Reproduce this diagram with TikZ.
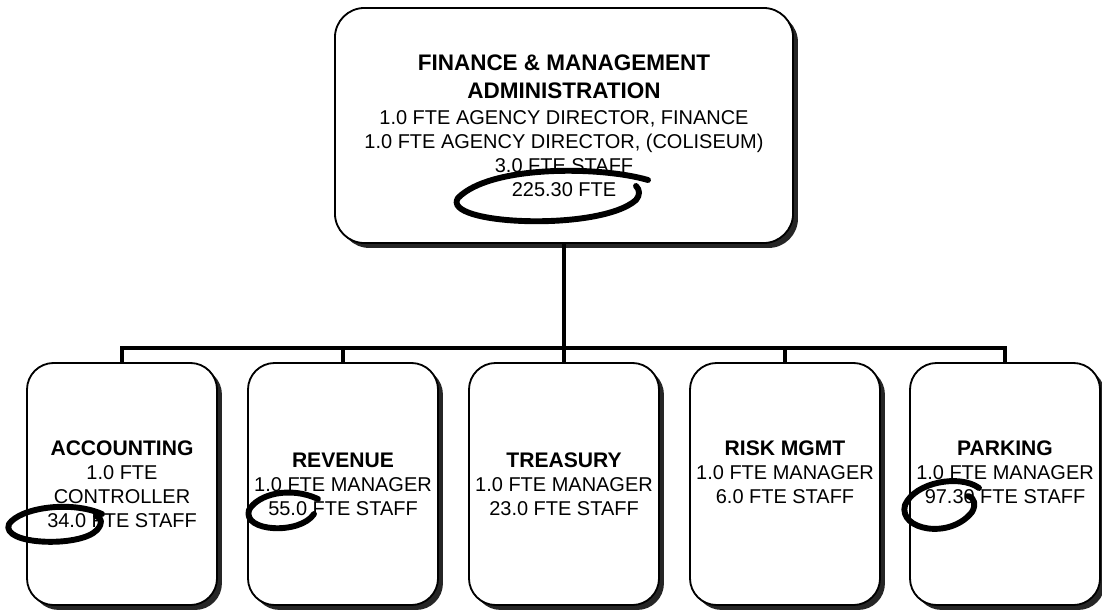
\documentclass[tikz,border=0pt]{standalone}
\usepackage{fontspec}
\setmainfont{Liberation Sans}
\usetikzlibrary{shadows}

\newcommand{\unithead}[1]{{\fontsize{15}{17.1}\selectfont\bfseries #1}}
\newcommand{\agencyhead}[1]{{\fontsize{16}{17.1}\selectfont\bfseries #1}}

\begin{document}
\begin{tikzpicture}[x=0.025cm,y=-0.025cm,
    unitbox/.style={draw=black,line width=1.3pt,fill=white,rounded corners=19pt,
      minimum width=4.75cm,minimum height=6.05cm,align=center,inner sep=1pt,
      font=\fontsize{14.2}{17.1}\selectfont,
      drop shadow={shadow xshift=3.5pt,shadow yshift=-3.5pt,fill=black!85,opacity=1}},
    agencybox/.style={unitbox,minimum width=11.45cm,minimum height=5.875cm,rounded corners=21pt},
    link/.style={line width=2.2pt},
    inkloop/.style={line width=4.2pt,line cap=round,line join=round}]
  \useasboundingbox (0,0) rectangle (1102,610);
  \fill[white] (0,0) rectangle (1102,610);

  % agency
  \node[agencybox] (fma) at (564,125.5) {\agencyhead{FINANCE \& MANAGEMENT}\\[3pt]
    \agencyhead{ADMINISTRATION}\\[1pt]
    1.0 FTE AGENCY DIRECTOR, FINANCE\\
    1.0 FTE AGENCY DIRECTOR, (COLISEUM)\\
    3.0 FTE STAFF\\
    225.30 FTE};

  % divisions
  \node[unitbox] (acc) at (122,484) {\unithead{ACCOUNTING}\\1.0 FTE\\CONTROLLER\\34.0 FTE STAFF};
  \node[unitbox] (rev) at (343,484) {\unithead{REVENUE}\\1.0 FTE MANAGER\\55.0 FTE STAFF};
  \node[unitbox] (trs) at (564,484) {\unithead{TREASURY}\\1.0 FTE MANAGER\\23.0 FTE STAFF};
  \node[unitbox] (risk) at (785,484) {\unithead{RISK MGMT}\\1.0 FTE MANAGER\\6.0 FTE STAFF\\\mbox{}};
  \node[unitbox] (park) at (1005,484) {\unithead{PARKING}\\1.0 FTE MANAGER\\97.30 FTE STAFF\\\mbox{}};

  % reporting lines
  \coordinate (bus) at (0,348);
  \draw[link] (fma.south) -- (fma.south |- bus);
  \draw[link] (acc.north) -- (acc.north |- bus) -- (park.north |- bus) -- (park.north);
  \foreach \u in {rev,trs,risk}
    \draw[link] (\u.north) -- (\u.north |- bus);

  % pen marks round the totals
  \draw[inkloop] (648,180) .. controls (600,166) and (490,165) .. (458,198)
    .. controls (440,225) and (600,232) .. (636,200) .. controls (640,195) and (640,190) .. (636,186);
  \draw[inkloop] (102,514) .. controls (70,500) and (20,508) .. (9,524)
    .. controls (0,545) and (80,548) .. (97,530) .. controls (103,523) and (102,518) .. (96,516);
  \draw[inkloop] (318,499) .. controls (290,486) and (258,494) .. (249,510)
    .. controls (242,532) and (300,535) .. (314,514);
  \draw[inkloop] (979,488) .. controls (960,474) and (915,482) .. (905,505)
    .. controls (898,530) and (950,540) .. (972,512) .. controls (976,505) and (975,498) .. (968,496);
\end{tikzpicture}
\end{document}
